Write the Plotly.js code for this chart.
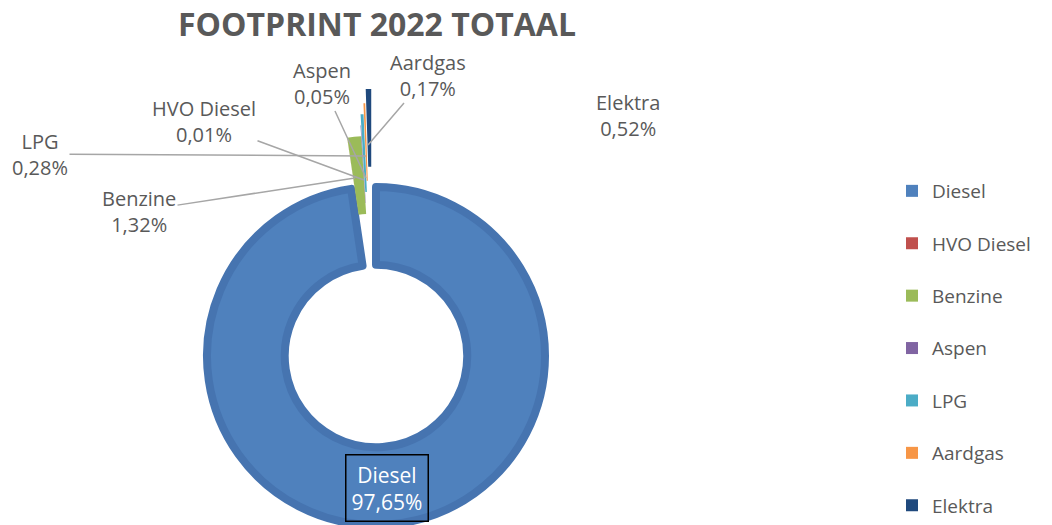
<!DOCTYPE html>
<html>
<head>
<meta charset="utf-8">
<script src="https://cdn.plot.ly/plotly-3.0.1.min.js"></script>
<style>html,body{margin:0;padding:0;background:#fff;}#chart{width:1052px;height:525px;}</style>
</head>
<body>
<div id="chart"></div>
<script>
// ---- data ----
const labels = ['Diesel', 'HVO Diesel', 'Benzine', 'Aspen', 'LPG', 'Aardgas', 'Elektra'];
const values = [97.65, 0.01, 1.32, 0.05, 0.28, 0.17, 0.52];
const colors = ['#4F81BD', '#C0504D', '#9BBB59', '#8064A2', '#4BACC6', '#F79646', '#1F497D'];
const chartTitle = 'FOOTPRINT 2022 TOTAAL';

// ---- styling / layout (not data) ----
const W = 1052, H = 525;
const explode = [0, 0, 0, 0.065, 0.13, 0.195, 0.278];   // extra pull of small slices
const R = 169, HOLE = 0.54;
const ringCenter = [376, 356];
const smallCenter = [372, 305];
const transparent = 'rgba(0,0,0,0)';

function domX(cx, half) { return [(cx - half) / W, (cx + half) / W]; }
function domY(cy, half) { return [1 - (cy + half) / H, 1 - (cy - half) / H]; }
function pct(v) { return v.toFixed(2).replace('.', ',') + '%'; }

const maxPull = Math.max.apply(null, explode);
const smallHalf = R * (1 + maxPull);

const common = {
  type: 'pie', labels: labels, values: values, sort: false,
  direction: 'clockwise', rotation: 0, textinfo: 'none', hoverinfo: 'skip'
};

// legend carrier (hidden under the legend box)
const legendTrace = Object.assign({}, common, {
  labels: labels.map((l, i) => i < labels.length - 1 ? l + '<br> ' : l),
  marker: { colors: colors, line: { width: 0 } },
  domain: { x: [0.95, 0.9501], y: [0.5, 0.5001] },
  showlegend: true
});

// main ring (Diesel)
const ringTrace = Object.assign({}, common, {
  hole: HOLE,
  marker: {
    colors: colors.map((c, i) => i === 0 ? c : transparent),
    line: { color: '#4674B0', width: colors.map((c, i) => i === 0 ? 8 : 0) }
  },
  domain: { x: domX(ringCenter[0], R), y: domY(ringCenter[1], R) },
  showlegend: false
});

// exploded small slices
const smallTrace = Object.assign({}, common, {
  hole: HOLE,
  pull: explode,
  marker: {
    colors: colors.map((c, i) => i === 0 ? transparent : c),
    line: { width: 0 }
  },
  domain: { x: domX(smallCenter[0], smallHalf), y: domY(smallCenter[1], smallHalf) },
  showlegend: false
});

// label positions (text centre) and leader-line tips, in pixels
const labelPos = [[387, 488], [204, 121], [139, 211], [322, 83], [40, 154], [428, 75], [628, 115]];
const leaderTip = [null, [364, 180], [355, 178], [366, 178], [366, 156], [368, 145], null];

const annotations = labels.map((l, i) => {
  const txt = l + '<br>' + pct(values[i]);
  const p = labelPos[i];
  if (i === 0) {
    return {
      xref: 'paper', yref: 'paper', x: p[0] / W, y: 1 - p[1] / H,
      text: txt, showarrow: false, xanchor: 'center', yanchor: 'middle',
      font: { family: 'Open Sans', size: 21, color: '#FFFFFF' },
      bordercolor: '#000000', borderwidth: 1.5, borderpad: 5
    };
  }
  const t = leaderTip[i];
  if (!t) {
    return {
      xref: 'paper', yref: 'paper', x: p[0] / W, y: 1 - p[1] / H,
      text: txt, showarrow: false, xanchor: 'center', yanchor: 'middle',
      font: { family: 'Open Sans', size: 20, color: '#595959' }
    };
  }
  return {
    xref: 'paper', yref: 'paper', x: t[0] / W, y: 1 - t[1] / H,
    ax: p[0] - t[0], ay: p[1] - t[1],
    text: txt, showarrow: true, arrowhead: 0, arrowwidth: 1.5, arrowcolor: '#A6A6A6',
    font: { family: 'Open Sans', size: 20, color: '#595959' }
  };
});

const layout = {
  width: W, height: H,
  margin: { l: 0, r: 0, t: 0, b: 0, autoexpand: false },
  paper_bgcolor: '#FFFFFF', plot_bgcolor: '#FFFFFF',
  title: {
    text: '<b>' + chartTitle + '</b>',
    x: 377 / W, xanchor: 'center', xref: 'paper',
    y: 1 - 25 / H, yanchor: 'middle', yref: 'container',
    font: { family: 'Open Sans', size: 32, color: '#595959' }
  },
  showlegend: true,
  legend: {
    x: 892 / W, xanchor: 'left', y: 0, yanchor: 'bottom',
    font: { family: 'Open Sans', size: 19, color: '#595959' },
    bgcolor: '#FFFFFF', valign: 'top', traceorder: 'normal'
  },
  annotations: annotations,
  hovermode: false
};

Plotly.newPlot('chart', [legendTrace, ringTrace, smallTrace], layout, { displayModeBar: false, staticPlot: true });
</script>
</body>
</html>
